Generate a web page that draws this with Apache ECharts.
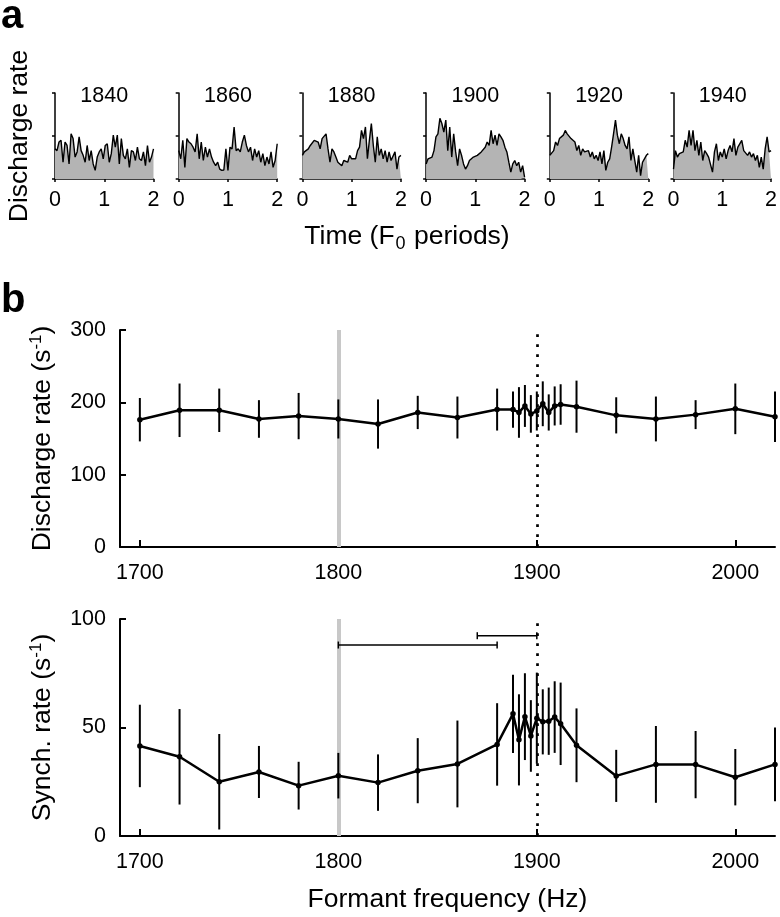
<!DOCTYPE html>
<html><head><meta charset="utf-8">
<script src="https://cdn.jsdelivr.net/npm/echarts@6/dist/echarts.min.js"></script>
<style>html,body{margin:0;padding:0;background:#fff}#c{width:780px;height:917px}</style>
</head><body><div id="c"></div>
<script>
// ---------- Panel a: PSTH traces (Discharge rate vs time, F0 periods) ----------
const psthLabels = ['1840','1860','1880','1900','1920','1940'];
const psth1840 = [0.70,0.66,0.86,0.90,0.39,0.86,0.78,0.35,1.05,0.94,0.51,0.63,0.98,0.66,0.55,0.39,0.78,0.43,0.66,0.35,0.20,0.51,0.63,0.70,0.47,0.78,0.82,0.39,0.59,1.02,0.74,1.02,0.35,0.94,0.55,0.47,0.70,0.27,0.66,0.63,0.43,0.74,0.47,0.43,0.63,0.31,0.78,0.39,0.51,0.70];
const psth1860 = [0.66,0.47,0.90,0.27,0.94,0.86,0.82,0.74,0.63,1.05,0.47,0.86,0.43,0.74,0.51,0.70,0.51,0.39,0.31,0.39,0.23,0.20,0.21,0.70,0.20,0.74,0.70,1.21,0.66,0.70,0.63,0.86,1.02,0.78,0.63,0.74,0.43,0.70,0.51,0.66,0.39,0.59,0.31,0.51,0.35,0.63,0.27,0.43,0.82];
const psth1880 = [0.55,0.63,0.66,0.70,0.78,0.74,0.90,0.91,0.86,0.70,0.94,0.98,1.05,0.70,0.39,0.70,0.63,0.51,0.39,0.35,0.31,0.43,0.47,0.39,0.55,0.47,0.43,0.47,0.66,0.74,1.13,0.94,1.21,0.47,0.90,1.29,0.78,0.39,0.98,0.55,0.70,0.47,0.66,0.39,0.63,0.43,0.39,0.63,0.23,0.51,0.55];
const psth1900 = [0.35,0.47,0.43,0.51,0.66,0.98,1.05,1.41,1.29,1.09,1.37,0.66,1.21,0.51,1.05,0.63,0.31,0.70,0.55,0.35,0.23,0.31,0.43,0.39,0.51,0.47,0.55,0.51,0.63,0.66,0.74,0.86,0.78,1.13,0.82,1.02,0.78,1.05,0.98,0.90,0.74,0.63,0.39,0.16,0.35,0.43,0.31,0.39,0.16,0.31,0.04];
const psth1920 = [0.55,0.51,0.66,0.86,0.78,0.94,0.90,1.02,1.13,1.05,1.02,0.94,0.98,0.86,0.66,0.78,0.55,0.70,0.63,0.59,0.66,0.51,0.63,0.47,0.55,0.43,0.63,0.35,0.66,0.20,0.39,0.47,0.74,1.05,1.37,1.02,0.82,1.05,0.94,0.78,0.70,0.98,0.43,0.70,0.74,0.16,0.55,0.08,0.39,0.47,0.55,0.59];
const psth1940 = [0.23,0.66,0.51,0.59,0.59,0.63,0.90,0.74,1.13,0.78,1.13,0.66,0.90,0.55,0.86,0.43,0.66,0.59,0.51,0.47,0.16,0.63,0.82,0.43,0.63,0.51,0.70,0.47,0.66,0.78,0.63,0.94,0.55,0.74,0.74,0.90,0.66,0.70,0.55,0.63,0.51,0.59,0.43,0.55,0.27,0.51,0.23,0.70,0.98,0.63,0.66];
const psthAll = [psth1840, psth1860, psth1880, psth1900, psth1920, psth1940];
const timeMax = 2;
const psthMax = 2;

// ---------- Panel b: rates vs formant frequency ----------
const freqs   = [1700,1720,1740,1760,1780,1800,1820,1840,1860,1880,1888,1891,1894,1897,1900,1903,1906,1909,1912,1920,1940,1960,1980,2000,2020];
const rate    = [176,189,189,177,181,177,170,186,179,190,190,186,195,184,188,198,186,195,197,194,182,177,183,191,180];
const rateErr = [30,37,30,26,32,27,34,23,29,29,25,35,29,26,27,31,25,27,28,36,25,31,20,35,35];
const sync    = [41.5,36.5,25,29.5,23.2,27.8,24.6,30.1,33.2,42.2,56.3,44.3,55,46.1,54.3,52.6,52.9,54.8,51.7,41.8,27.7,33,32.9,27.1,33];
const syncErr = [19,22,22,12,11,10.5,13,15,20,19,18,21,20,16.5,21,15,15.5,16.5,19,17,12,17.7,15.5,13,17];
const rangeBars = [[1800,1880,88],[1870,1900,92.3]];
const freqTicks = [1700,1800,1900,2000];
const freqMin = 1690, freqMax = 2020;
const rateMax = 300, syncMax = 100;
const grayLineX = 1800, dottedLineX = 1900;

const FONT = '"Liberation Sans", Arial, sans-serif';
const chart = echarts.init(document.getElementById('c'), null, {renderer:'canvas'});

const grids = [], xAxes = [], yAxes = [], series = [], graphics = [];
const aLeft = 55, aStep = 123.7, aW = 98.5;
psthAll.forEach((arr, i) => {
  grids.push({left: aLeft + i*aStep, top: 93, width: aW, height: 86});
  xAxes.push({gridIndex:i, type:'value', min:0, max:timeMax, interval:1,
    axisLine:{show:true, onZero:false, lineStyle:{color:'#000', width:1.5}},
    axisTick:{show:true, length:3, lineStyle:{color:'#000', width:1.5}},
    axisLabel:{show:true, showMinLabel:true, showMaxLabel:true, fontSize:21.5, color:'#000', fontFamily:FONT, margin:10},
    splitLine:{show:false}});
  yAxes.push({gridIndex:i, type:'value', min:0, max:psthMax, interval:1,
    axisLine:{show:true, onZero:false, lineStyle:{color:'#000', width:1.5}},
    axisTick:{show:true, length:3, lineStyle:{color:'#000', width:1.5}},
    axisLabel:{show:false}, splitLine:{show:false}});
  const n = arr.length;
  series.push({type:'line', xAxisIndex:i, yAxisIndex:i, symbol:'none', silent:true,
    data: arr.map((v,k)=>[k*timeMax/(n-1), v]),
    lineStyle:{color:'#000', width:1.4}, areaStyle:{color:'#b4b4b4', opacity:1}, z:2});
  graphics.push({type:'text', x: aLeft + i*aStep + aW/2, y: 96,
    style:{text: psthLabels[i], fontSize:21.5, fontFamily:FONT, fill:'#000', align:'center', verticalAlign:'middle'}});
});

function bAxes(idx, top, yMax, yInterval, yName, showXName){
  grids.push({left:120, top:top, width:655, height:217});
  xAxes.push({gridIndex:idx, type:'value', min:freqMin, max:freqMax,
    axisLine:{show:true, onZero:false, lineStyle:{color:'#000', width:2}},
    axisTick:{show:true, inside:true, length:7, customValues:freqTicks, lineStyle:{color:'#000', width:2}},
    axisLabel:{show:true, customValues:freqTicks, formatter:(v)=>String(v), fontSize:21.5, color:'#000', fontFamily:FONT, margin:15},
    splitLine:{show:false},
    name: showXName ? 'Formant frequency (Hz)' : '', nameLocation:'middle', nameGap:50,
    nameTextStyle:{fontSize:26.5, color:'#000', fontFamily:FONT}});
  yAxes.push({gridIndex:idx, type:'value', min:0, max:yMax, interval:yInterval,
    axisLine:{show:true, onZero:false, lineStyle:{color:'#000', width:2}},
    axisTick:{show:true, inside:true, length:6, lineStyle:{color:'#000', width:2}},
    axisLabel:{show:true, fontSize:21.5, color:'#000', fontFamily:FONT, margin:14},
    splitLine:{show:false},
    name: yName + ' (s{sup|-1})', nameLocation:'middle', nameRotate:90, nameGap:63,
    nameTextStyle:{fontSize:26.5, color:'#000', fontFamily:FONT,
      rich:{sup:{fontSize:17, fontFamily:FONT, color:'#000', verticalAlign:'top', padding:[0,0,12,0]}}}});
}
bAxes(6, 330, rateMax, 100, 'Discharge rate', false);
bAxes(7, 619, syncMax, 50, 'Synch. rate', true);

function refLines(idx){
  series.push({type:'line', xAxisIndex:idx, yAxisIndex:idx, data:[], silent:true, z:1,
    markLine:{silent:true, z:1, symbol:'none', label:{show:false}, animation:false,
      data:[
        {xAxis:grayLineX, lineStyle:{color:'#c8c8c8', width:4, type:'solid'}},
        {xAxis:dottedLineX, lineStyle:{color:'#000', width:2.7, type:[2.7,7.3], cap:'butt'}}
      ]}});
}
function errBars(idx, vals, errs){
  series.push({type:'custom', xAxisIndex:idx, yAxisIndex:idx, silent:true, z:3,
    data: freqs.map((f,i)=>[f, vals[i]-errs[i], vals[i]+errs[i]]),
    encode:{x:0, y:[1,2]},
    renderItem:(params, api)=>{
      const p1 = api.coord([api.value(0), api.value(1)]);
      const p2 = api.coord([api.value(0), api.value(2)]);
      return {type:'line', shape:{x1:p1[0], y1:p1[1], x2:p2[0], y2:p2[1]}, style:{stroke:'#000', lineWidth:2}};
    }});
}
function meanLine(idx, vals){
  series.push({type:'line', xAxisIndex:idx, yAxisIndex:idx, silent:true, z:4,
    data: freqs.map((f,i)=>[f, vals[i]]),
    symbol:'circle', symbolSize:5.5, showSymbol:true,
    itemStyle:{color:'#000'}, lineStyle:{color:'#000', width:2.5}});
}
refLines(6); errBars(6, rate, rateErr); meanLine(6, rate);
refLines(7); errBars(7, sync, syncErr); meanLine(7, sync);

series.push({type:'custom', xAxisIndex:7, yAxisIndex:7, silent:true, z:3,
  data: rangeBars, encode:{x:[0,1], y:2},
  renderItem:(params, api)=>{
    const a = api.coord([api.value(0), api.value(2)]);
    const b = api.coord([api.value(1), api.value(2)]);
    const h = 3.5, st = {stroke:'#000', lineWidth:1.5};
    return {type:'group', children:[
      {type:'line', shape:{x1:a[0], y1:a[1], x2:b[0], y2:b[1]}, style:st},
      {type:'line', shape:{x1:a[0], y1:a[1]-h, x2:a[0], y2:a[1]+h}, style:st},
      {type:'line', shape:{x1:b[0], y1:b[1]-h, x2:b[0], y2:b[1]+h}, style:st}
    ]};
  }});

graphics.push(
  {type:'text', x:1, y:-3, style:{text:'a', fontSize:40, fontWeight:'bold', fontFamily:FONT, fill:'#000'}},
  {type:'text', x:1, y:281, style:{text:'b', fontSize:40, fontWeight:'bold', fontFamily:FONT, fill:'#000'}},
  {type:'text', x:20, y:136, rotation:Math.PI/2,
    style:{text:'Discharge rate', fontSize:26.5, fontFamily:FONT, fill:'#000', align:'center', verticalAlign:'middle'}},
  {type:'text', x:407, y:237,
    style:{text:'Time (F{sub|0} periods)', fontSize:26.5, fontFamily:FONT, fill:'#000', align:'center', verticalAlign:'middle',
      rich:{sub:{fontSize:18, fontFamily:FONT, fill:'#000', verticalAlign:'bottom', padding:[14,1,0,1]}}}}
);

chart.setOption({
  animation:false,
  backgroundColor:'#fff',
  grid: grids, xAxis: xAxes, yAxis: yAxes, series: series, graphic: graphics
});
</script></body></html>
